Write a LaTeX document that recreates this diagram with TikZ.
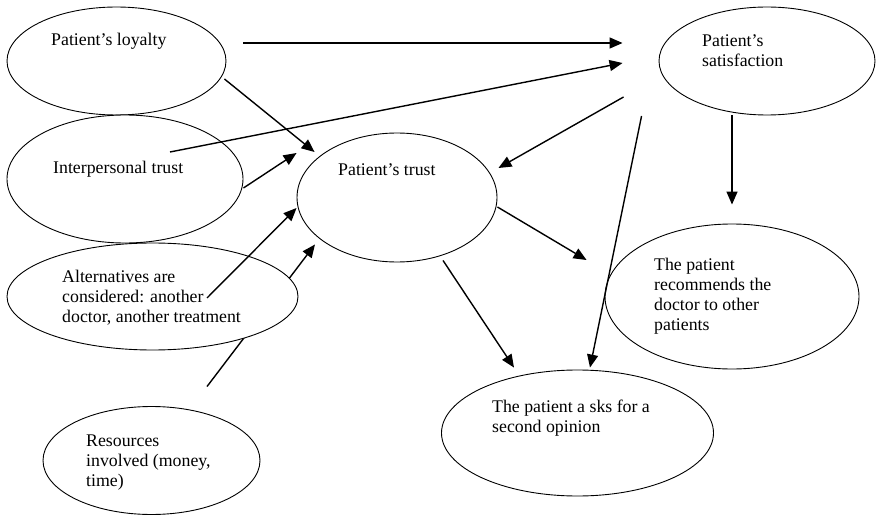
\documentclass[tikz,border=0pt]{standalone}
\usepackage{fontspec}
\setmainfont{Liberation Serif}
\usetikzlibrary{arrows.meta,shapes.geometric}

\begin{document}
\begin{tikzpicture}[x=1pt,y=-1pt,>={Triangle[length=13pt,width=11pt]},
    bubble/.style={ellipse,draw,fill=white,line width=0.9pt,inner sep=0pt},
    txt/.style={anchor=base west,align=left,inner sep=0pt,font=\fontsize{17.8}{20}\selectfont},
    link/.style={->,line width=1.4pt}]

\path[use as bounding box] (0,0) rectangle (876,516);

% ellipses
\node[bubble,minimum width=219pt,minimum height=108pt] (loyalty) at (116.5,61) {};
\node[bubble,minimum width=236pt,minimum height=128pt] (interp) at (125,179) {};
\node[bubble,minimum width=217pt,minimum height=108pt] (resources) at (151.5,460.5) {};
\node[bubble,minimum width=200pt,minimum height=129pt] (trust) at (397,197.5) {};
\node[bubble,minimum width=216pt,minimum height=108pt] (satisf) at (767,61) {};
\node[bubble,minimum width=254pt,minimum height=145pt] (recommend) at (732,296.5) {};
\node[bubble,minimum width=272pt,minimum height=126pt] (second) at (577.5,433) {};

% goes behind the alternatives ellipse
\draw[link] ([shift={(55.5,-19.5)}]resources.north) -- ([shift={(-82,-18)}]trust.south);
\node[bubble,minimum width=291pt,minimum height=107pt] (altern) at (152.5,296.5) {};

% arrows
\draw[link] ([shift={(17,-18)}]loyalty.east) -- ([shift={(-36,-18)}]satisf.west);
\draw[link] ([shift={(45,-27)}]interp.center) -- ([shift={(-36,2)}]satisf.west);
\draw[link] ([shift={(-2,18)}]loyalty.east) -- ([shift={(18,-45.5)}]trust.west);
\draw[link] ([shift={(0,9)}]interp.east) -- ([shift={(0,-44.5)}]trust.west);
\draw[link] ([shift={(54.5,1.5)}]altern.center) -- ([shift={(0,10.5)}]trust.west);
\draw[link] ([shift={(-35,36)}]satisf.west) -- ([shift={(1,-29.5)}]trust.east);
\draw[link] ([shift={(-17,55)}]satisf.west) -- ([shift={(12.5,-2)}]second.north);
\draw[link] ([shift={(0,9.5)}]trust.east) -- ([shift={(-18,-36.5)}]recommend.west);
\draw[link] ([shift={(46,-2)}]trust.south) -- ([shift={(-63.5,-2)}]second.north);
\draw[link] ([shift={(-35,0)}]satisf.south) -- ([shift={(0,-19)}]recommend.north);

% texts (base = last line)
\node[txt] (loyalty-t) at (51,46) {Patient's loyalty};
\node[txt] (interp-t) at (53,174) {Interpersonal trust};
\node[txt] (altern-t) at (62,322) {Alternatives are\\considered: another\\doctor, another treatment};
\node[txt] (resources-t) at (86,486) {Resources\\involved (money,\\time)};
\node[txt] (trust-t) at (338,176) {Patient's trust};
\node[txt] (satisf-t) at (702,67) {Patient's\\satisfaction};
\node[txt] (recommend-t) at (654,330) {The patient\\recommends the\\doctor to other\\patients};
\node[txt] (second-t) at (492,432) {The patient a sks for a\\second opinion};
\end{tikzpicture}
\end{document}
